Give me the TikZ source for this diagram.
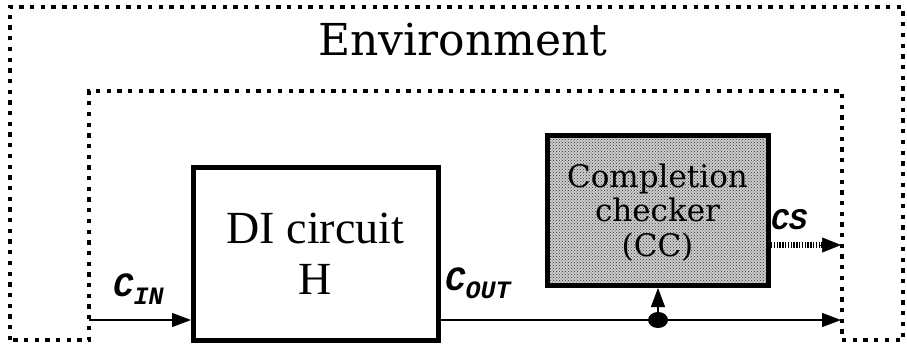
\documentclass[tikz,border=0pt]{standalone}
\usepackage{fontspec}
\setmainfont{Liberation Serif}
\newfontfamily\envfont{DejaVu Serif}
\newfontfamily\labfont{Liberation Mono}
\usetikzlibrary{arrows.meta,shapes.geometric,patterns}
\tikzset{
  boundary/.style={line width=4.3pt, dash pattern=on 4.3pt off 6.4pt},
  blockbox/.style={draw, line width=5pt, inner sep=0pt},
  wire/.style={line width=1.1pt, -{Triangle[length=19pt,width=14pt]}},
  csline/.style={line width=6pt, dash pattern=on 1.4pt off 1.4pt},
  sig/.style={font=\labfont\bfseries\itshape\fontsize{34}{34}\selectfont, inner sep=0pt, anchor=base west},
}
\newcommand{\subl}[1]{\raisebox{-8pt}{\fontsize{25}{25}\selectfont #1}}
\begin{document}
\begin{tikzpicture}[x=1pt,y=-1pt]
\useasboundingbox (0,0) rectangle (907,345);
% environment boundary
\draw[boundary] (10,340) -- (10,7) -- (903,7) -- (903,340) -- (842,340) -- (842,91) -- (89,91) -- (89,340) -- cycle;
\node[font=\envfont\fontsize{44}{44}\selectfont, anchor=base] (env) at (463,56) {Environment};
% DI circuit
\draw[blockbox] (193,167) rectangle (438,340);
\node[font=\fontsize{46}{50}\selectfont, anchor=base] (ditxt) at (315.5,243) {DI circuit};
\node[font=\fontsize{46}{50}\selectfont, anchor=base] (htxt) at (315.5,294) {H};
% CC
\fill[black!20] (547,135) rectangle (768,285);
\fill[pattern=crosshatch dots, pattern color=black!80] (547,135) rectangle (768,285);
\draw[blockbox] (547,135) rectangle (768,285);
\node[font=\envfont\fontsize{31}{31}\selectfont, anchor=base] (cc1) at (657.5,187) {Completion};
\node[font=\envfont\fontsize{31}{31}\selectfont, anchor=base] (cc2) at (657.5,221) {checker};
\node[font=\envfont\fontsize{31}{31}\selectfont, anchor=base] (cc3) at (657.5,256) {(CC)};
% coordinates
\coordinate (inL) at (89,320);
\coordinate (diL) at (191,320);
\coordinate (diR) at (440,320);
\coordinate (outR) at (841,320);
\coordinate (ccB) at (658,288);
\coordinate (ccR) at (771,245);
\coordinate (csR) at (841,245);
\node[ellipse, fill=black, minimum width=20pt, minimum height=16pt, inner sep=0pt] (dot) at (658,320) {};
% wires
\draw[wire] (inL) -- (diL);
\draw[wire] (diR) -- (outR);
\draw[wire] (dot.center) -- (ccB);
\draw[csline] (ccR) -- (823,245);
\draw[line width=0.5pt, -{Triangle[length=19pt,width=15pt]}] (820,245) -- (csR);
% labels
\node[sig] (cin) at (113,296) {C\subl{IN}};
\node[sig] (cout) at (445,290) {C\subl{OUT}};
\node[sig, font=\labfont\bfseries\itshape\fontsize{30}{30}\selectfont] (cs) at (771,229) {CS};
\end{tikzpicture}
\end{document}
